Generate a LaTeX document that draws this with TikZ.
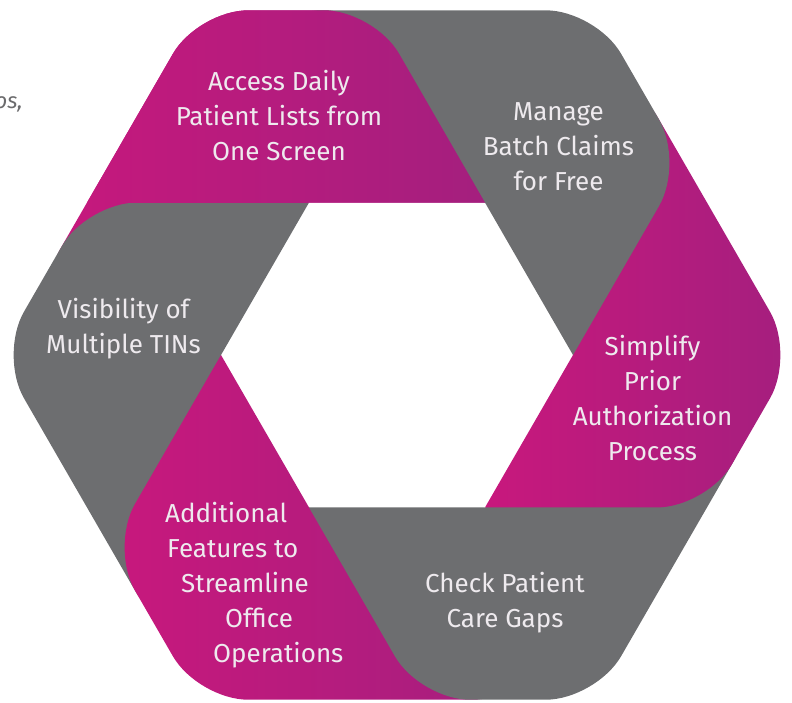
\documentclass[tikz,border=0pt]{standalone}
\usepackage{fontspec}
\setmainfont{Fira Sans}
\definecolor{segpink}{HTML}{C8187D}
\definecolor{segpurple}{HTML}{A41F7E}
\definecolor{seggray}{HTML}{6D6E70}
\definecolor{labeltxt}{HTML}{EEEAEE}
\definecolor{sidetxt}{HTML}{6B6B6D}
\tikzset{
  pinkseg/.style={left color=segpink, right color=segpurple, draw=none},
  grayseg/.style={fill=seggray, draw=none},
  lbl/.style={text=labeltxt, font=\fontsize{26}{35}\selectfont, inner sep=0pt, anchor=base},
  lblw/.style={lbl, anchor=base west},
}
% one ring segment, #1 = rotation offset (deg), #2 = style
\newcommand{\ringseg}[2]{%
  \path[#2] (#1+60:176) [rounded corners=50pt] -- (#1+93.82:345.5) -- (#1+120:398)
    -- (#1+170:366.8) [sharp corners] -- (#1+120:176) -- cycle;}
\begin{document}
\begin{tikzpicture}[x=1pt,y=-1pt]
\useasboundingbox (0,0) rectangle (792,702);
\begin{scope}[shift={(397,355)}, yscale=-1]
  \ringseg{0}{pinkseg}     % Access (top)
  \ringseg{60}{grayseg}    % Visibility
  \ringseg{120}{pinkseg}   % Additional
  \ringseg{180}{grayseg}   % Check
  \ringseg{240}{pinkseg}   % Simplify
  \ringseg{300}{grayseg}   % Manage
  \begin{scope}
    \clip (-420,152.42) rectangle (420,420);
    \ringseg{0}{pinkseg}
  \end{scope}
\end{scope}

\node[text=sidetxt, font=\fontsize{22}{26}\selectfont\itshape, inner sep=0pt, anchor=base east] (side) at (23,108) {os,};

\node[lbl] (a1) at (279,90) {Access Daily};
\node[lbl] (a2) at (279,125) {Patient Lists from};
\node[lbl] (a3) at (279,160) {One Screen};

\node[lbl] (m1) at (558.5,120) {Manage};
\node[lbl] (m2) at (558.5,155) {Batch Claims};
\node[lbl] (m3) at (558.5,190) {for Free};

\node[lbl] (s1) at (652.5,355) {Simplify};
\node[lbl] (s2) at (652.5,390) {Prior};
\node[lbl] (s3) at (652.5,425) {Authorization};
\node[lbl] (s4) at (652.5,460) {Process};

\node[lbl] (c1) at (505,592) {Check Patient};
\node[lbl] (c2) at (505,627) {Care Gaps};

\node[lbl] (v1) at (123.5,318) {Visibility of};
\node[lbl] (v2) at (123.5,353) {Multiple TINs};

\node[lblw] (d1) at (165,522) {Additional};
\node[lblw] (d2) at (167,557) {Features to};
\node[lblw] (d3) at (181,592) {Streamline};
\node[lblw] (d4) at (225,627) {Office};
\node[lblw] (d5) at (213,662) {Operations};
\end{tikzpicture}
\end{document}
